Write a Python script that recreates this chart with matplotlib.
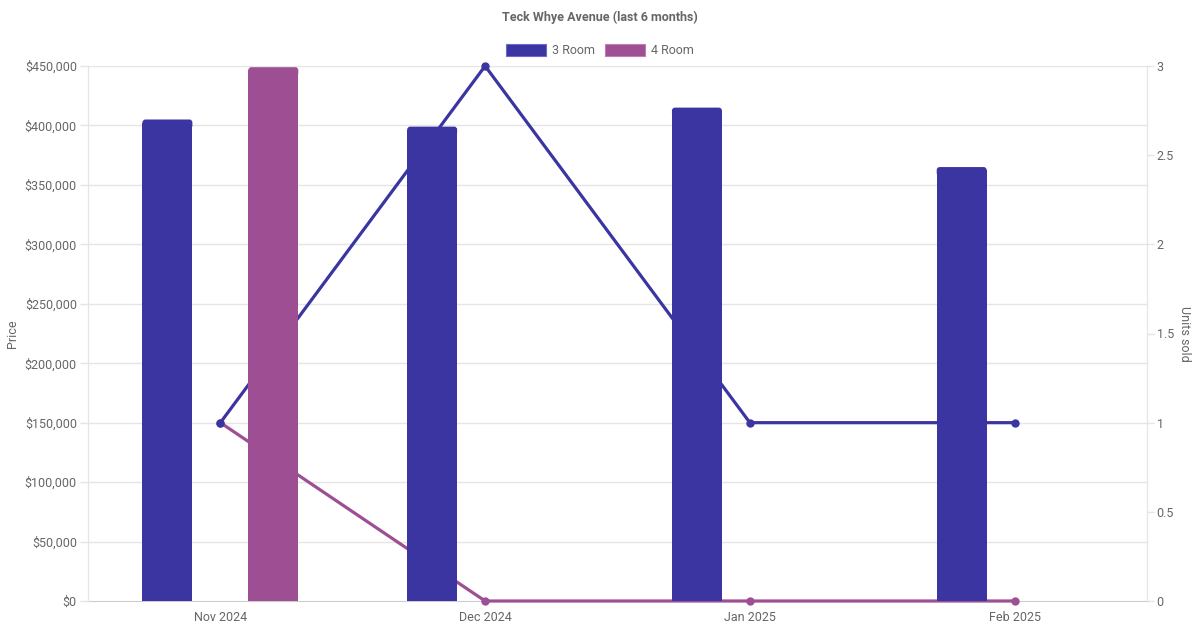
import numpy as np
import matplotlib
matplotlib.use('Agg')
import matplotlib.pyplot as plt
from matplotlib.ticker import FuncFormatter, MultipleLocator
from matplotlib.patches import FancyBboxPatch

# Data
months = ['Nov 2024', 'Dec 2024', 'Jan 2025', 'Feb 2025']
price_3room = [405000, 399000, 415000, 365000]
price_4room = [449000, None, None, None]
units_3room = [1, 3, 1, 1]
units_4room = [1, 0, 0, 0]

C3 = '#3a35a0'
C4 = '#9e4f93'
E3 = '#6e6ac8'
E4 = '#c07cb4'
GRID = '#e5e5e5'
TXT = '#666666'

plt.rcParams['font.family'] = ['Roboto', 'DejaVu Sans']
FS = 9
PMAX = 450000
UMAX = 3

fig = plt.figure(figsize=(12, 6.3), dpi=100)
ax = fig.add_axes([88 / 1200, 29 / 630, 1059 / 1200, 535 / 630])
ax2 = ax.twinx()

x = np.arange(len(months))
bw = 50 / 265
off = 0.2

# lines sit on the back axis, bars on top of them (as in the reference)
ax.set_zorder(2)
ax2.set_zorder(1)
ax.patch.set_visible(False)

# horizontal grid follows the price ticks, drawn behind the lines
for p in np.arange(50000, PMAX + 1, 50000):
    ax2.axhline(p * UMAX / PMAX, color=GRID, lw=1, zorder=0)

ax2.plot(x, units_3room, color=C3, lw=2.3, marker='o', ms=5, zorder=5, clip_on=False)
ax2.plot(x, units_4room, color=C4, lw=2.3, marker='o', ms=5, zorder=4, clip_on=False)

ax.set_xlim(-0.5, 3.5)
ax.set_ylim(0, PMAX)
ax2.set_ylim(0, UMAX)


def draw_bars(vals, dx, color, edge):
    # bars with slightly rounded top corners
    r = 3 * PMAX / 535
    rx = 3 / 265
    for xi, v in zip(x, vals):
        if v is None:
            continue
        ax.bar(xi + dx, v - r, width=bw, color=color, edgecolor='none', zorder=3)
        ax.add_patch(FancyBboxPatch((xi + dx - bw / 2 + rx, v - 2 * r), bw - 2 * rx, r,
                                    boxstyle='round,pad=%f' % rx,
                                    mutation_aspect=r / rx, facecolor=color,
                                    edgecolor='none', zorder=3))


draw_bars(price_3room, -off, C3, E3)
draw_bars(price_4room, off, C4, E4)

ax.yaxis.set_major_locator(MultipleLocator(50000))
ax.yaxis.set_major_formatter(FuncFormatter(lambda v, p: '${:,.0f}'.format(v)))
ax2.yaxis.set_major_locator(MultipleLocator(0.5))
ax2.yaxis.set_major_formatter(FuncFormatter(lambda v, p: '{:g}'.format(v)))

ax.set_xticks(x)
ax.set_xticklabels(months)

for a in (ax, ax2):
    a.spines['top'].set_visible(False)
    a.spines['left'].set_color(GRID)
    a.spines['right'].set_color(GRID)
ax.spines['bottom'].set_visible(False)
ax2.spines['bottom'].set_color('#cccccc')

ax.tick_params(axis='y', colors=GRID, labelcolor=TXT, labelsize=FS, length=6, width=1, pad=2)
ax.tick_params(axis='x', length=0, labelcolor=TXT, labelsize=FS, pad=7)
ax2.tick_params(axis='y', colors=GRID, labelcolor=TXT, labelsize=FS, length=5, width=1, pad=2)

ax.set_ylabel('Price', color=TXT, fontsize=FS, labelpad=4)
ax2.set_ylabel('Units sold', color=TXT, fontsize=FS, rotation=270, labelpad=12)

fig.text(600 / 1200, 1 - 17 / 630, 'Teck Whye Avenue (last 6 months)', ha='center', va='center',
         fontsize=FS, fontweight='bold', color=TXT)

# legend boxes above the plot
for lx, label, col, ec in [(506, '3 Room', C3, E3), (605, '4 Room', C4, E4)]:
    fig.patches.append(plt.Rectangle((lx / 1200, 1 - 56 / 630), 40 / 1200, 12 / 630,
                                     transform=fig.transFigure, facecolor=col, edgecolor=ec, lw=0.8))
    fig.text((lx + 46) / 1200, 1 - 50 / 630, label, ha='left', va='center', fontsize=FS, color=TXT)

fig.savefig('out.png', dpi=100)
